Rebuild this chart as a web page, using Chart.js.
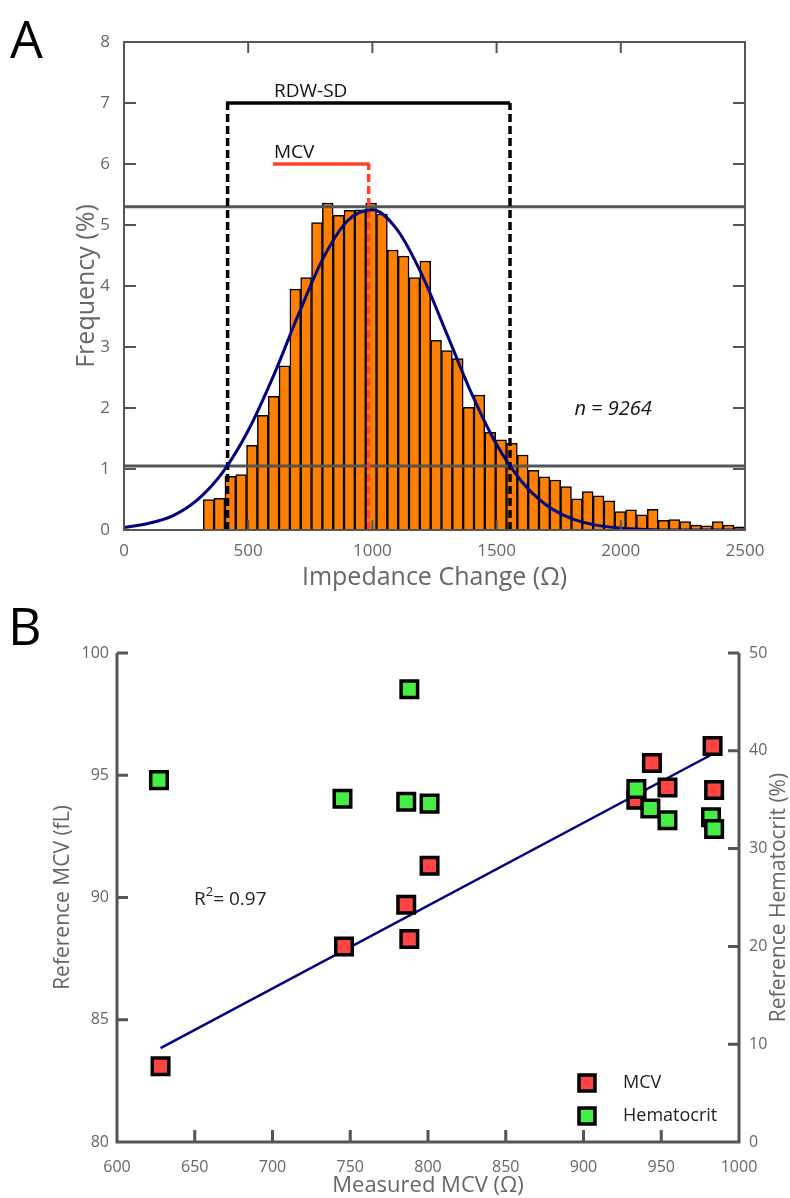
<!DOCTYPE html>
<html>
<head>
<meta charset="utf-8">
<script src="https://cdn.jsdelivr.net/npm/chart.js@4.4.0/dist/chart.umd.min.js"></script>
<style>
  body { margin: 0; background: #fff; }
  canvas { display: block; }
</style>
</head>
<body>
<canvas id="histChart" width="790" height="600"></canvas>
<canvas id="mcvChart" width="790" height="598"></canvas>
<script>
// ---- panel A : impedance histogram ----
var binCenters = [340.8, 384.4, 428.0, 471.6, 515.2, 558.8, 602.4, 646.0, 689.6, 733.2,
  776.8, 820.4, 864.0, 907.6, 951.2, 994.8, 1038.4, 1082.0, 1125.6, 1169.2,
  1212.8, 1256.4, 1300.0, 1343.6, 1387.2, 1430.8, 1474.4, 1518.0, 1561.6, 1605.2,
  1648.8, 1692.4, 1736.0, 1779.6, 1823.2, 1866.8, 1910.4, 1954.0, 1997.6, 2041.2,
  2084.8, 2128.4, 2172.0, 2215.6, 2259.2, 2302.8, 2346.4, 2390.0, 2433.6, 2477.2];
var freqPct = [0.50, 0.52, 0.88, 0.91, 1.39, 1.88, 2.19, 2.69, 3.95, 4.14,
  5.04, 5.36, 5.16, 5.24, 5.25, 5.36, 5.18, 4.59, 4.49, 4.14,
  4.41, 3.11, 2.94, 2.81, 2.01, 2.21, 1.60, 1.48, 1.42, 1.23,
  0.98, 0.87, 0.82, 0.71, 0.51, 0.63, 0.56, 0.48, 0.30, 0.33,
  0.25, 0.34, 0.16, 0.17, 0.14, 0.08, 0.07, 0.14, 0.08, 0.05];
// normal fit curve
var fitX = [0, 100, 200, 300, 400, 500, 600, 700, 800, 900, 1000, 1100, 1200,
  1300, 1400, 1500, 1600, 1700, 1800, 1900, 2000, 2100, 2200, 2300, 2400, 2500];
var fitY = [0.04, 0.11, 0.24, 0.51, 0.96, 1.63, 2.51, 3.51, 4.44, 5.07, 5.25, 4.92, 4.18,
  3.21, 2.23, 1.40, 0.80, 0.41, 0.19, 0.08, 0.03, 0.01, 0.0, 0.0, 0.0, 0.0];
var rdwLeft = 417, rdwRight = 1554, rdwLevel = 7;
var mcvValue = 985, mcvLineStart = 600, mcvLevel = 6;
var guideLevels = [5.3, 1.05];
var histXTicks = [0, 500, 1000, 1500, 2000, 2500];
var histYTicks = [0, 1, 2, 3, 4, 5, 6, 7, 8];

// ---- panel B : measured vs reference ----
var measuredMcv = [628, 746, 788, 786, 801, 934, 944, 954, 983, 984];
var refMcv = [83.1, 88.0, 88.3, 89.7, 91.3, 94.0, 95.5, 94.5, 96.2, 94.4];
var measuredHct = [627, 745, 788, 786, 801, 934, 943, 954, 982, 984];
var refHct = [37.0, 35.1, 46.3, 34.8, 34.6, 36.1, 34.1, 32.9, 33.2, 32.0];
var regX = [628, 984];
var regY = [83.84, 95.9];
var mcvXTicks = [600, 650, 700, 750, 800, 850, 900, 950, 1000];
var mcvYTicks = [80, 85, 90, 95, 100];
var hctYTicks = [0, 10, 20, 30, 40, 50];

var FONT = "'Open Sans', 'DejaVu Sans', sans-serif";

function pts(xs, ys) {
  return xs.map(function(x, i) { return { x: x, y: ys[i] }; });
}
function setTicks(arr) {
  return function(scale) { scale.ticks = arr.map(function(v) { return { value: v }; }); };
}
function plain(v) { return String(v); } // no thousands separator

var histDecor = {
  id: 'histDecor',
  afterDraw: function(chart) {
    var ctx = chart.ctx, a = chart.chartArea, xs = chart.scales.x, ys = chart.scales.y;
    ctx.save();
    ctx.strokeStyle = '#555';
    ctx.lineWidth = 2;
    ctx.strokeRect(a.left, a.top, a.right - a.left, a.bottom - a.top);
    ctx.beginPath();
    xs.ticks.forEach(function(t) {
      var px = xs.getPixelForValue(t.value);
      ctx.moveTo(px, a.bottom); ctx.lineTo(px, a.bottom - 10);
      ctx.moveTo(px, a.top); ctx.lineTo(px, a.top + 11);
    });
    ys.ticks.forEach(function(t) {
      var py = ys.getPixelForValue(t.value);
      ctx.moveTo(a.left, py); ctx.lineTo(a.left + 12, py);
      ctx.moveTo(a.right, py); ctx.lineTo(a.right - 12, py);
    });
    ctx.stroke();

    // axis titles
    ctx.fillStyle = '#666';
    ctx.font = '25px ' + FONT;
    ctx.textAlign = 'center';
    ctx.textBaseline = 'middle';
    ctx.fillText('Impedance Change (\u03A9)', (a.left + a.right) / 2, 578);
    ctx.save();
    ctx.translate(87, (a.top + a.bottom) / 2);
    ctx.rotate(-Math.PI / 2);
    ctx.fillText('Frequency (%)', 0, 0);
    ctx.restore();

    // annotations
    ctx.fillStyle = '#111';
    ctx.textAlign = 'left';
    ctx.textBaseline = 'alphabetic';
    ctx.font = '19px ' + FONT;
    ctx.fillText('RDW-SD', xs.getPixelForValue(mcvLineStart + 4), ys.getPixelForValue(rdwLevel) - 6);
    ctx.fillText('MCV', xs.getPixelForValue(mcvLineStart + 4), ys.getPixelForValue(mcvLevel) - 6);
    ctx.font = 'italic 20px ' + FONT;
    ctx.textAlign = 'center';
    ctx.textBaseline = 'middle';
    ctx.fillText('n = 9264', xs.getPixelForValue(1969), ys.getPixelForValue(1.98));

    ctx.fillStyle = '#000';
    ctx.font = '52px ' + FONT;
    ctx.textAlign = 'left';
    ctx.textBaseline = 'alphabetic';
    ctx.fillText('A', 10, 58);
    ctx.restore();
  }
};

new Chart(document.getElementById('histChart'), {
  type: 'bar',
  data: {
    datasets: [
      {
        type: 'line', order: 1,
        data: pts(fitX, fitY),
        borderColor: '#000080', borderWidth: 3,
        pointRadius: 0, cubicInterpolationMode: 'monotone'
      },
      {
        type: 'line', order: 2,
        data: [{ x: rdwLeft, y: 0 }, { x: rdwLeft, y: rdwLevel }],
        borderColor: '#000', borderWidth: 3.5, borderDash: [8, 4], pointRadius: 0
      },
      {
        type: 'line', order: 2,
        data: [{ x: rdwRight, y: 0 }, { x: rdwRight, y: rdwLevel }],
        borderColor: '#000', borderWidth: 3.5, borderDash: [8, 4], pointRadius: 0
      },
      {
        type: 'line', order: 2,
        data: [{ x: rdwLeft - 6, y: rdwLevel }, { x: rdwRight, y: rdwLevel }],
        borderColor: '#000', borderWidth: 3.5, pointRadius: 0
      },
      {
        type: 'line', order: 2,
        data: [{ x: mcvValue, y: 0 }, { x: mcvValue, y: mcvLevel }],
        borderColor: '#ff4422', borderWidth: 3.5, borderDash: [8, 4], pointRadius: 0
      },
      {
        type: 'line', order: 2,
        data: [{ x: mcvLineStart, y: mcvLevel }, { x: mcvValue + 4, y: mcvLevel }],
        borderColor: '#ff4422', borderWidth: 3.5, pointRadius: 0
      },
      {
        type: 'line', order: 3,
        data: [{ x: 0, y: guideLevels[0] }, { x: 2500, y: guideLevels[0] }],
        borderColor: '#555', borderWidth: 3, pointRadius: 0
      },
      {
        type: 'line', order: 3,
        data: [{ x: 0, y: guideLevels[1] }, { x: 2500, y: guideLevels[1] }],
        borderColor: '#555', borderWidth: 3, pointRadius: 0
      },
      {
        type: 'bar', order: 10,
        data: pts(binCenters, freqPct),
        backgroundColor: '#ff8000', borderColor: '#000', borderWidth: 1.5,
        barPercentage: 1, categoryPercentage: 1
      }
    ]
  },
  options: {
    responsive: false,
    animation: false,
    events: [],
    layout: { padding: { top: 42, right: 45, left: 0, bottom: 0 } },
    plugins: { legend: { display: false }, tooltip: { enabled: false } },
    scales: {
      x: {
        type: 'linear', min: 0, max: 2500, offset: false,
        afterBuildTicks: setTicks(histXTicks),
        afterFit: function(s) { s.height = 70; },
        grid: { display: false, drawTicks: false },
        border: { display: false },
        ticks: { color: '#666', font: { family: FONT, size: 17 }, padding: 11, maxRotation: 0, callback: plain }
      },
      y: {
        min: 0, max: 8,
        afterBuildTicks: setTicks(histYTicks),
        afterFit: function(s) { s.width = 124; },
        grid: { display: false, drawTicks: false },
        border: { display: false },
        ticks: { color: '#666', font: { family: FONT, size: 17 }, padding: 14, callback: plain }
      }
    }
  },
  plugins: [histDecor]
});

var mcvDecor = {
  id: 'mcvDecor',
  afterDraw: function(chart) {
    var ctx = chart.ctx, a = chart.chartArea, xs = chart.scales.x, yl = chart.scales.y, yr = chart.scales.y2;
    ctx.save();
    ctx.strokeStyle = '#555';
    ctx.lineWidth = 3;
    ctx.beginPath();
    ctx.moveTo(a.left, a.top); ctx.lineTo(a.left, a.bottom); ctx.lineTo(a.right, a.bottom); ctx.lineTo(a.right, a.top);
    xs.ticks.forEach(function(t) {
      var px = xs.getPixelForValue(t.value);
      ctx.moveTo(px, a.bottom); ctx.lineTo(px, a.bottom - 12);
    });
    yl.ticks.forEach(function(t) {
      var py = yl.getPixelForValue(t.value);
      ctx.moveTo(a.left, py); ctx.lineTo(a.left + 11, py);
    });
    yr.ticks.forEach(function(t) {
      var py = yr.getPixelForValue(t.value);
      ctx.moveTo(a.right, py); ctx.lineTo(a.right - 11, py);
    });
    ctx.stroke();

    ctx.fillStyle = '#666';
    ctx.font = '22px ' + FONT;
    ctx.textAlign = 'center';
    ctx.textBaseline = 'middle';
    ctx.fillText('Measured MCV (\u03A9)', (a.left + a.right) / 2, 586);
    ctx.font = '21px ' + FONT;
    ctx.save();
    ctx.translate(63, (a.top + a.bottom) / 2);
    ctx.rotate(-Math.PI / 2);
    ctx.fillText('Reference MCV (fL)', 0, 0);
    ctx.restore();
    ctx.save();
    ctx.translate(779, (a.top + a.bottom) / 2);
    ctx.rotate(-Math.PI / 2);
    ctx.fillText('Reference Hematocrit (%)', 0, 0);
    ctx.restore();

    // R squared
    ctx.fillStyle = '#222';
    ctx.textAlign = 'left';
    ctx.textBaseline = 'alphabetic';
    ctx.font = '19px ' + FONT;
    var rx = 194, ry = 305;
    ctx.fillText('R', rx, ry);
    var w = ctx.measureText('R').width;
    ctx.font = '13px ' + FONT;
    ctx.fillText('2', rx + w, ry - 9);
    var w2 = ctx.measureText('2').width;
    ctx.font = '19px ' + FONT;
    ctx.fillText('= 0.97', rx + w + w2, ry);

    // legend
    var items = [['MCV', '#ff4444'], ['Hematocrit', '#44ee44']];
    items.forEach(function(it, i) {
      var cy = 483 + i * 33;
      ctx.fillStyle = it[1];
      ctx.fillRect(579, cy - 8, 16, 16);
      ctx.lineWidth = 3.5;
      ctx.strokeStyle = '#000';
      ctx.strokeRect(579, cy - 8, 16, 16);
      ctx.fillStyle = '#222';
      ctx.font = '18px ' + FONT;
      ctx.textBaseline = 'middle';
      ctx.fillText(it[0], 623, cy);
    });

    ctx.fillStyle = '#000';
    ctx.font = '52px ' + FONT;
    ctx.textBaseline = 'alphabetic';
    ctx.fillText('B', 8, 45);
    ctx.restore();
  }
};

new Chart(document.getElementById('mcvChart'), {
  type: 'scatter',
  data: {
    datasets: [
      {
        label: 'Hematocrit', yAxisID: 'y2', order: 1,
        data: pts(measuredHct, refHct),
        pointStyle: 'rect', pointRadius: 11.7,
        backgroundColor: '#44ee44', borderColor: '#000', borderWidth: 3.5
      },
      {
        label: 'MCV', yAxisID: 'y', order: 2,
        data: pts(measuredMcv, refMcv),
        pointStyle: 'rect', pointRadius: 11.7,
        backgroundColor: '#ff4444', borderColor: '#000', borderWidth: 3.5
      },
      {
        type: 'line', yAxisID: 'y', order: 3,
        data: pts(regX, regY),
        borderColor: '#000080', borderWidth: 2.5, pointRadius: 0, showLine: true
      }
    ]
  },
  options: {
    responsive: false,
    animation: false,
    events: [],
    clip: false,
    layout: { padding: { top: 53, right: 0, left: 0, bottom: 0 } },
    plugins: { legend: { display: false }, tooltip: { enabled: false } },
    scales: {
      x: {
        type: 'linear', min: 600, max: 1000,
        afterBuildTicks: setTicks(mcvXTicks),
        afterFit: function(s) { s.height = 56; },
        grid: { display: false, drawTicks: false },
        border: { display: false },
        ticks: { color: '#666', font: { family: FONT, size: 16 }, padding: 16, maxRotation: 0, callback: plain }
      },
      y: {
        position: 'left', min: 80, max: 100,
        afterBuildTicks: setTicks(mcvYTicks),
        afterFit: function(s) { s.width = 117; },
        grid: { display: false, drawTicks: false },
        border: { display: false },
        ticks: { color: '#666', font: { family: FONT, size: 16 }, padding: 8, callback: plain }
      },
      y2: {
        position: 'right', min: 0, max: 50,
        afterBuildTicks: setTicks(hctYTicks),
        afterFit: function(s) { s.width = 51; },
        grid: { display: false, drawTicks: false },
        border: { display: false },
        ticks: { color: '#666', font: { family: FONT, size: 16 }, padding: 10, callback: plain }
      }
    }
  },
  plugins: [mcvDecor]
});
</script>
</body>
</html>
